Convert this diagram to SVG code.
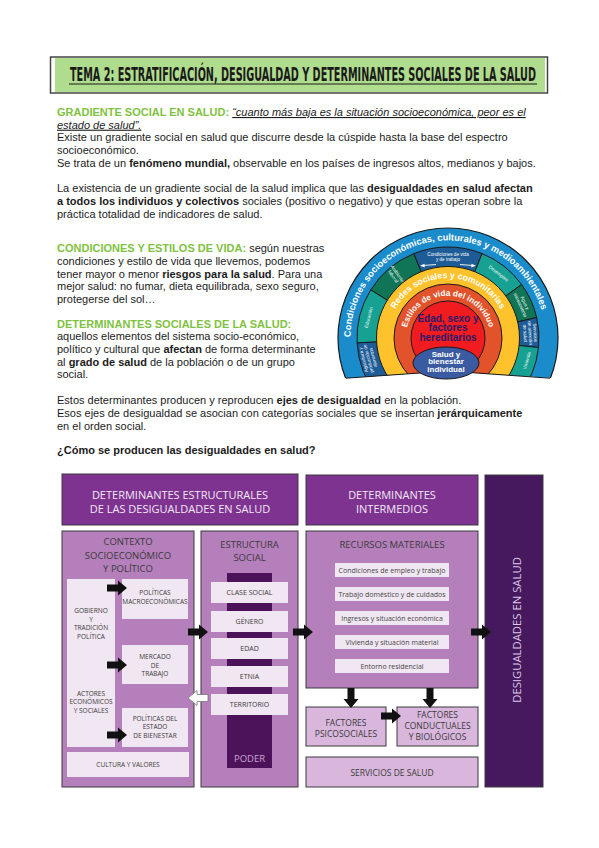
<svg xmlns="http://www.w3.org/2000/svg" xmlns:xlink="http://www.w3.org/1999/xlink" width="599" height="848" viewBox="0 0 599 848">
<style>
.b{font-family:"Liberation Sans",Arial,sans-serif;font-size:11px;fill:#1c1c1c}
.g{fill:#7fc241;font-weight:bold}
.bd{font-weight:bold}
.q{font-style:italic;text-decoration:underline}
.rt{font-family:"Liberation Sans",Arial,sans-serif;font-weight:bold;fill:#fff}
.seg{font-family:"Liberation Sans",Arial,sans-serif;font-size:4.6px;fill:#fff;text-anchor:middle}
.ol{stroke:#1a1a1a;stroke-width:1}
.d{font-family:"Open Sans",sans-serif;text-anchor:middle;fill:#3a3a3a}
.hd{font-size:11px;fill:#f3e9f5}
.sub{font-size:9.5px}
.sm{font-size:6.5px}
.es{font-size:7px}
.ri{font-size:7px;fill:#444}
.fb{font-size:8.5px}
.bx{stroke:#3a3a3a;stroke-width:1}
.hdr{fill:#7e3391}
.mid{fill:#b57fbc}
.lt{fill:#f1e7f2}
.fc{fill:#d9b7dd}
</style>
<defs>
<clipPath id="arch"><polygon points="320,200 580,200 580,380 448,371 320,380"/></clipPath>
<path id="pOuter" d="M352,354.9 A97.5,97.5 0 1 1 544,354.9"/>
<path id="pYel" d="M388.9,348.4 A60,60 0 1 1 507.1,348.4"/>
<path id="pOr" d="M406.1,345.4 A42.5,42.5 0 1 1 489.9,345.4"/>
<path id="ar" d="M0,-3.5 H11 V-7.5 L20,0 L11,7.5 V3.5 H0 Z"/>
</defs>

<!-- Title -->
<g id="title">
<rect x="50.5" y="57" width="497" height="36" fill="#fff" stroke="#444" stroke-width="1.5"/>
<rect x="55" y="58" width="490" height="34" fill="#b0dc8e"/>
<text x="70" y="81" font-family="'Liberation Sans Narrow','DejaVu Sans Condensed','Liberation Sans',sans-serif" font-weight="bold" font-size="19" fill="#1a1a1a" textLength="466" lengthAdjust="spacingAndGlyphs">TEMA 2: ESTRATIFICACIÓN, DESIGUALDAD Y DETERMINANTES SOCIALES DE LA SALUD</text>
<line x1="69" y1="84" x2="537" y2="84" stroke="#1a1a1a" stroke-width="1.2"/>
</g>

<!-- Body text -->
<g id="body">
<text class="b" x="57" y="116"><tspan class="g">GRADIENTE SOCIAL EN SALUD:</tspan> <tspan class="q">“cuanto más baja es la situación socioeconómica, peor es el</tspan></text>
<text class="b" x="57" y="128.7"><tspan class="q">estado de salud”.</tspan></text>
<text class="b" x="57" y="141.4">Existe un gradiente social en salud que discurre desde la cúspide hasta la base del espectro</text>
<text class="b" x="57" y="154.1">socioeconómico.</text>
<text class="b" x="57" y="166.8">Se trata de un <tspan class="bd">fenómeno mundial,</tspan> observable en los países de ingresos altos, medianos y bajos.</text>
<text class="b" x="57" y="192.2">La existencia de un gradiente social de la salud implica que las <tspan class="bd">desigualdades en salud afectan</tspan></text>
<text class="b" x="57" y="204.9"><tspan class="bd">a todos los individuos y colectivos</tspan> sociales (positivo o negativo) y que estas operan sobre la</text>
<text class="b" x="57" y="217.6">práctica totalidad de indicadores de salud.</text>
<text class="b" x="57" y="252.3"><tspan class="g">CONDICIONES Y ESTILOS DE VIDA:</tspan> según nuestras</text>
<text class="b" x="57" y="265">condiciones y estilo de vida que llevemos, podemos</text>
<text class="b" x="57" y="277.7">tener mayor o menor <tspan class="bd">riesgos para la salud</tspan>. Para una</text>
<text class="b" x="57" y="290.4">mejor salud: no fumar, dieta equilibrada, sexo seguro,</text>
<text class="b" x="57" y="303.1">protegerse del sol…</text>
<text class="b" x="57" y="327.5"><tspan class="g">DETERMINANTES SOCIALES DE LA SALUD:</tspan></text>
<text class="b" x="57" y="340.2">aquellos elementos del sistema socio-económico,</text>
<text class="b" x="57" y="352.9">político y cultural que <tspan class="bd">afectan</tspan> de forma determinante</text>
<text class="b" x="57" y="365.6">al <tspan class="bd">grado de salud</tspan> de la población o de un grupo</text>
<text class="b" x="57" y="378.3">social.</text>
<text class="b" x="57" y="404.4">Estos determinantes producen y reproducen <tspan class="bd">ejes de desigualdad</tspan> en la población.</text>
<text class="b" x="57" y="417.1">Esos ejes de desigualdad se asocian con categorías sociales que se insertan <tspan class="bd">jerárquicamente</tspan></text>
<text class="b" x="57" y="429.8">en el orden social.</text>
<text class="b bd" x="57" y="454">¿Cómo se producen las desigualdades en salud?</text>
</g>

<!-- Rainbow model -->
<g id="rainbow">
<g clip-path="url(#arch)">
<circle cx="448" cy="338" r="110" fill="#1b8ccb" stroke="#1a1a1a" stroke-width="1.2"/>
<path class="ol" fill="#1d5c96" d="M448,338 L378.3,396.5 A91,91 0 0 1 357.1,342.8 Z"/>
<path class="ol" fill="#17a193" d="M448,338 L357.1,342.8 A91,91 0 0 1 370.8,289.8 Z"/>
<path class="ol" fill="#0f7556" d="M448,338 L370.8,289.8 A91,91 0 0 1 413.9,253.6 Z"/>
<path class="ol" fill="#1d5c96" d="M448,338 L413.9,253.6 A91,91 0 0 1 482.1,253.6 Z"/>
<path class="ol" fill="#17a193" d="M448,338 L482.1,253.6 A91,91 0 0 1 521.6,284.5 Z"/>
<path class="ol" fill="#0f7556" d="M448,338 L521.6,284.5 A91,91 0 0 1 536.7,317.5 Z"/>
<path class="ol" fill="#1d5c96" d="M448,338 L536.7,317.5 A91,91 0 0 1 538.5,347.5 Z"/>
<path class="ol" fill="#17a193" d="M448,338 L538.5,347.5 A91,91 0 0 1 517.7,396.5 Z"/>
<circle class="ol" cx="448" cy="338" r="71.5" fill="#fdc22c"/>
<circle class="ol" cx="448" cy="338" r="54" fill="#e2532b"/>
<circle class="ol" cx="448" cy="338" r="37" fill="#f01c1f"/>
</g>
<polyline points="346,378.2 448,371 550,378.2" fill="none" stroke="#1a1a1a" stroke-width="1"/>
<text class="rt" font-size="9.3"><textPath xlink:href="#pOuter" startOffset="156.5" text-anchor="middle">Condiciones socioeconómicas, culturales y medioambientales</textPath></text>
<text class="rt" font-size="8.8"><textPath xlink:href="#pYel" startOffset="50%" text-anchor="middle">Redes sociales y comunitarias</textPath></text>
<text class="rt" font-size="8.3"><textPath xlink:href="#pOr" startOffset="50%" text-anchor="middle">Estilos de vida del individuo</textPath></text>
<g transform="translate(368.6,358.5) rotate(-104.5)"><text class="seg" y="-3.8">Agricultura y<tspan x="0" dy="5">producción de</tspan><tspan x="0" dy="5">alimentos</tspan></text></g>
<g transform="translate(368.6,317.5) rotate(-75.5)"><text class="seg" y="1.6">Educación</text></g>
<g transform="translate(395.3,275.2) rotate(55)"><text class="seg" y="-1">Ambiente<tspan x="0" dy="5">laboral</tspan></text></g>
<text class="seg" x="448" y="256">Condiciones de vida<tspan x="448" dy="5">y de trabajo</tspan></text>
<path d="M436,264.5 L423,265.5" stroke="#fff" stroke-width="0.9"/>
<polygon points="420,265.8 424.5,263.8 424.7,267.4" fill="#fff"/>
<path d="M460,264.5 L473,265.5" stroke="#fff" stroke-width="0.9"/>
<polygon points="476,265.8 471.5,263.8 471.3,267.4" fill="#fff"/>
<g transform="translate(498.5,273.4) rotate(38)"><text class="seg" y="1.6">Desempleo</text></g>
<g transform="translate(522.6,304) rotate(65.5)"><text class="seg" y="-1">Agua y<tspan x="0" dy="5">saneamiento</tspan></text></g>
<g transform="translate(529.8,333) rotate(86.5)"><text class="seg" y="-3.8">Servicios<tspan x="0" dy="5">de atención</tspan><tspan x="0" dy="5">de salud</tspan></text></g>
<g transform="translate(526.8,360.6) rotate(-74)"><text class="seg" y="1.6">Vivienda</text></g>
<text x="448" y="321.5" font-family="'Liberation Sans',Arial,sans-serif" font-weight="bold" font-size="10" fill="#2b1a6b" text-anchor="middle">Edad, sexo y<tspan x="448" dy="9.6">factores</tspan><tspan x="448" dy="9.6">hereditarios</tspan></text>
<ellipse cx="446" cy="363" rx="33" ry="16" fill="#3a5ba1" stroke="#1a1a1a" stroke-width="1"/>
<text class="rt" x="446" y="356.5" font-size="8" text-anchor="middle">Salud y<tspan x="446" dy="7.8">bienestar</tspan><tspan x="446" dy="7.8">individual</tspan></text>
</g>

<!-- Diagram: headers -->
<g id="hdr-estructurales">
<rect class="hdr bx" x="62" y="474" width="236" height="51"/>
<text class="d hd" x="180" y="499">DETERMINANTES ESTRUCTURALES</text>
<text class="d hd" x="180" y="513">DE LAS DESIGUALDADES EN SALUD</text>
</g>
<g id="hdr-intermedios">
<rect class="hdr bx" x="306" y="475" width="172" height="50"/>
<text class="d hd" x="392" y="499">DETERMINANTES</text>
<text class="d hd" x="392" y="513">INTERMEDIOS</text>
</g>
<g id="desigualdades">
<rect class="bx" x="485" y="475" width="58" height="312" fill="#46185e"/>
<text class="d" transform="translate(520.5,630) rotate(-90)" style="font-size:11.3px;fill:#dcc9e3">DESIGUALDADES EN SALUD</text>
</g>

<!-- Contexto -->
<g id="contexto">
<rect class="mid bx" x="62" y="531" width="132" height="256"/>
<text class="d sub" x="128" y="545">CONTEXTO</text>
<text class="d sub" x="128" y="558.5">SOCIOECONÓMICO</text>
<text class="d sub" x="128" y="572">Y POLÍTICO</text>
</g>
<g id="gobierno">
<rect class="lt" x="67" y="579" width="48" height="168"/>
<text class="d sm" x="91" y="613">GOBIERNO<tspan x="91" dy="8.6">Y</tspan><tspan x="91" dy="8.6">TRADICIÓN</tspan><tspan x="91" dy="8.6">POLÍTICA</tspan></text>
<text class="d sm" x="91" y="695.5">ACTORES<tspan x="91" dy="8.6">ECONÓMICOS</tspan><tspan x="91" dy="8.6">Y SOCIALES</tspan></text>
</g>
<g id="macro">
<rect class="lt" x="122" y="579" width="66" height="40"/>
<text class="d sm" x="155" y="595">POLÍTICAS<tspan x="155" dy="8.8">MACROECONÓMICAS</tspan></text>
</g>
<g id="mercado">
<rect class="lt" x="122" y="645" width="66" height="39"/>
<text class="d sm" x="155" y="659">MERCADO<tspan x="155" dy="8.6">DE</tspan><tspan x="155" dy="8.6">TRABAJO</tspan></text>
</g>
<g id="bienestar">
<rect class="lt" x="122" y="708" width="66" height="39"/>
<text class="d sm" x="155" y="720.5">POLÍTICAS DEL<tspan x="155" dy="8.8">ESTADO</tspan><tspan x="155" dy="8.8">DE BIENESTAR</tspan></text>
</g>
<g id="cultura">
<rect class="lt" x="67" y="752" width="122" height="25"/>
<text class="d sm" x="128" y="766.5">CULTURA Y VALORES</text>
</g>

<!-- Estructura social -->
<g id="estructura">
<rect class="mid bx" x="201" y="531" width="97" height="256"/>
<text class="d sub" x="249.5" y="547.5">ESTRUCTURA</text>
<text class="d sub" x="249.5" y="561">SOCIAL</text>
<rect x="227" y="573" width="45" height="195" fill="#4c135a"/>
<text class="d sub" x="249.5" y="762" style="fill:#c9a3d1">PODER</text>
</g>
<g id="clase"><rect class="lt" x="211" y="582" width="77" height="21"/><text class="d es" x="249.5" y="595">CLASE SOCIAL</text></g>
<g id="genero"><rect class="lt" x="211" y="611" width="77" height="21"/><text class="d es" x="249.5" y="624">GÉNERO</text></g>
<g id="edad"><rect class="lt" x="211" y="638" width="77" height="21"/><text class="d es" x="249.5" y="651">EDAD</text></g>
<g id="etnia"><rect class="lt" x="211" y="666" width="77" height="21"/><text class="d es" x="249.5" y="679">ETNIA</text></g>
<g id="territorio"><rect class="lt" x="211" y="694" width="77" height="21"/><text class="d es" x="249.5" y="707">TERRITORIO</text></g>

<!-- Recursos materiales -->
<g id="recursos">
<rect class="mid bx" x="306" y="531" width="172" height="157"/>
<text class="d sub" x="392" y="547.5">RECURSOS MATERIALES</text>
</g>
<g id="r1"><rect class="lt" x="335" y="563" width="114" height="14"/><text class="d ri" x="392" y="572.5">Condiciones de empleo y trabajo</text></g>
<g id="r2"><rect class="lt" x="335" y="587" width="114" height="14"/><text class="d ri" x="392" y="596.5">Trabajo doméstico y de cuidados</text></g>
<g id="r3"><rect class="lt" x="335" y="611" width="114" height="14"/><text class="d ri" x="392" y="620.5">Ingresos y situación económica</text></g>
<g id="r4"><rect class="lt" x="335" y="635" width="114" height="14"/><text class="d ri" x="392" y="644.5">Vivienda y situación material</text></g>
<g id="r5"><rect class="lt" x="335" y="659" width="114" height="14"/><text class="d ri" x="392" y="668.5">Entorno residencial</text></g>

<g id="psicosociales">
<rect class="fc bx" x="306" y="707" width="80" height="39"/>
<text class="d fb" x="346" y="725.5">FACTORES</text>
<text class="d fb" x="346" y="737">PSICOSOCIALES</text>
</g>
<g id="conductuales">
<rect class="fc bx" x="397" y="707" width="81" height="39"/>
<text class="d fb" x="437.5" y="718">FACTORES</text>
<text class="d fb" x="437.5" y="729">CONDUCTUALES</text>
<text class="d fb" x="437.5" y="740">Y BIOLÓGICOS</text>
</g>
<g id="servicios">
<rect class="fc bx" x="306" y="757" width="172" height="30"/>
<text class="d fb" x="392" y="775.5">SERVICIOS DE SALUD</text>
</g>

<!-- Connectors -->
<g id="connectors" fill="#111">
<use xlink:href="#ar" transform="translate(107,588)"/>
<use xlink:href="#ar" transform="translate(107,665)"/>
<use xlink:href="#ar" transform="translate(107,735)"/>
<use xlink:href="#ar" transform="translate(188,632)"/>
<use xlink:href="#ar" transform="translate(208,698) scale(-1,1)" fill="#fff" stroke="#777" stroke-width="0.8"/>
<use xlink:href="#ar" transform="translate(293,632)"/>
<use xlink:href="#ar" transform="translate(471,632)"/>
<use xlink:href="#ar" transform="translate(351,688) rotate(90)"/>
<use xlink:href="#ar" transform="translate(430,688) rotate(90)"/>
<use xlink:href="#ar" transform="translate(381,716)"/>
</g>
</svg>
